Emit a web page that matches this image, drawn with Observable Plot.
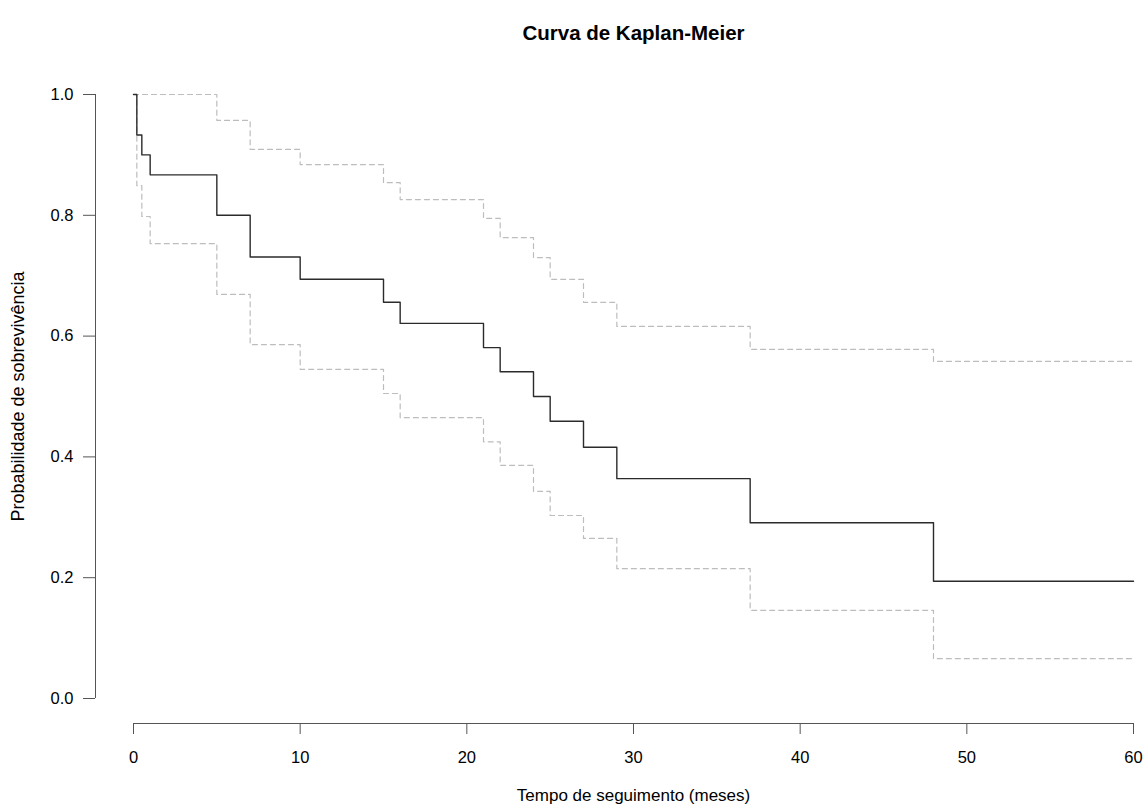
<!DOCTYPE html>
<html>
<head>
<meta charset="utf-8">
<script src="https://cdn.jsdelivr.net/npm/d3@7"></script>
<script src="https://cdn.jsdelivr.net/npm/@observablehq/plot@0.6"></script>
<style>
  html, body { margin: 0; padding: 0; background: #fff; }
  svg { display: block; }
</style>
</head>
<body>
<div id="chart"></div>
<script>
const titleText = "Curva de Kaplan-Meier";
const xLabel = "Tempo de seguimento (meses)";
const yLabel = "Probabilidade de sobrevivência";

const times = [0, 0.2, 0.5, 1, 5, 7, 10, 15, 16, 21, 22, 24, 25, 27, 29, 37, 48, 60];
const surv  = [1, 0.933, 0.9, 0.867, 0.8, 0.731, 0.694, 0.656, 0.621, 0.581, 0.541, 0.5, 0.459, 0.416, 0.364, 0.291, 0.194, 0.194];
const upper = [1, 1, 1, 1, 0.957, 0.909, 0.884, 0.854, 0.826, 0.795, 0.763, 0.730, 0.694, 0.656, 0.616, 0.578, 0.558, 0.558];
const lower = [1, 0.849, 0.798, 0.753, 0.669, 0.586, 0.545, 0.505, 0.465, 0.425, 0.386, 0.343, 0.303, 0.265, 0.215, 0.146, 0.066, 0.066];

const xTicks = [0, 10, 20, 30, 40, 50, 60];
const yTicks = [0, 0.2, 0.4, 0.6, 0.8, 1.0];

const rows = times.map((t, i) => ({t, s: surv[i], u: upper[i], l: lower[i]}));

const font = "'Liberation Sans', Arial, Helvetica, sans-serif";

const chart = Plot.plot({
  width: 1147,
  height: 808,
  marginLeft: 133,
  marginRight: 14,
  marginTop: 94,
  marginBottom: 110,
  style: {fontFamily: font, fontSize: "16px", color: "#000", background: "#fff"},
  x: {domain: [0, 60], axis: null},
  y: {domain: [0, 1], axis: null},
  marks: [
    // axes (R style, offset from plot region)
    Plot.ruleX([0], {y1: 0, y2: 1, dx: -38, stroke: "#555", strokeWidth: 1}),
    Plot.axisY(yTicks, {
      dx: -38, tickSize: 12, tickPadding: 10, stroke: "#555",
      tickFormat: d3.format(".1f"), fontSize: 16.5, fill: "#000", label: null
    }),
    Plot.ruleY([0], {x1: 0, x2: 60, dy: 25, stroke: "#555", strokeWidth: 1}),
    Plot.axisX(xTicks, {
      dy: 25, tickSize: 11, tickPadding: 17, stroke: "#555",
      tickFormat: d => String(d), fontSize: 16.5, fill: "#000", label: null
    }),
    // confidence limits
    Plot.line(rows, {x: "t", y: "u", curve: "step-after", stroke: "#bdbdbd", strokeWidth: 1.2, strokeDasharray: "5,4"}),
    Plot.line(rows, {x: "t", y: "l", curve: "step-after", stroke: "#bdbdbd", strokeWidth: 1.2, strokeDasharray: "5,4"}),
    // survival curve
    Plot.line(rows, {x: "t", y: "s", curve: "step-after", stroke: "#2b2b2b", strokeWidth: 1.4}),
    // titles
    Plot.text([titleText], {frameAnchor: "top", dy: -61, lineAnchor: "middle", fontSize: 20.5, fontWeight: "bold", fill: "#000"}),
    Plot.text([xLabel], {frameAnchor: "bottom", dy: 97, lineAnchor: "middle", fontSize: 17, fill: "#000"}),
    Plot.text([yLabel], {frameAnchor: "left", dx: -115, rotate: -90, lineAnchor: "middle", textAnchor: "middle", fontSize: 18, fill: "#000"})
  ]
});

document.getElementById("chart").appendChild(chart);
</script>
</body>
</html>
